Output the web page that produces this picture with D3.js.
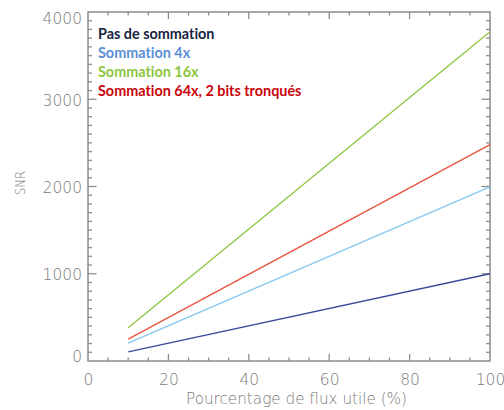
<!DOCTYPE html>
<html>
<head>
<meta charset="utf-8">
<script src="https://cdn.jsdelivr.net/npm/d3@7/dist/d3.min.js"></script>
<style>
  html, body { margin: 0; padding: 0; background: #ffffff; }
  svg { display: block; }
</style>
</head>
<body>
<svg id="chart" width="504" height="410"></svg>
<script>
// ---- data ----
const fluxPercent = [10, 100];
const snrNoSum = [105, 1000];
const snrSum4 = [205, 1995];
const snrSum16 = [380, 3775];
const snrSum64 = [250, 2480];
const seriesNames = ["Pas de sommation", "Sommation 4x", "Sommation 16x", "Sommation 64x, 2 bits tronqués"];
const xTicks = [0, 20, 40, 60, 80, 100];
const yTicks = [0, 1000, 2000, 3000, 4000];
const xTitle = "Pourcentage de flux utile (%)";
const yTitle = "SNR";

// ---- layout ----
const svg = d3.select("#chart");
const L = 88, R = 490, T = 12, B = 361;
const x = d3.scaleLinear().domain([0, 100]).range([L, R]);
const y = d3.scaleLinear().domain([0, 4000]).range([B, T]);

const axisColor = "#8c8c8c";
const textColor = "#7a7a7a";
const font = "'DejaVu Sans', sans-serif";

const lineColors = ["#3b4b9b", "#86c8f2", "#8cc63f", "#e8533d"];
const legendColors = ["#17243f", "#5b8fd6", "#8cc63f", "#c8050a"];
const allSeries = [snrNoSum, snrSum4, snrSum16, snrSum64];

// frame
svg.append("rect").attr("x", L).attr("y", T).attr("width", R - L).attr("height", B - T)
  .attr("fill", "none").attr("stroke", axisColor).attr("stroke-width", 1.5);

// ticks
const xMinor = d3.range(0, 101, 5);
const yMinor = d3.range(0, 4001, 100);
const gT = svg.append("g").attr("stroke", axisColor).attr("stroke-width", 1.3);
xMinor.forEach(v => {
  const major = v % 20 === 0;
  const len = major ? 7 : 3.5;
  if (v === 0 || v === 100) return;
  gT.append("line").attr("x1", x(v)).attr("x2", x(v)).attr("y1", B).attr("y2", B - len);
  gT.append("line").attr("x1", x(v)).attr("x2", x(v)).attr("y1", T).attr("y2", T + len);
});
yMinor.forEach(v => {
  const major = v % 1000 === 0;
  const len = major ? 8.5 : 4;
  if (v === 0 || v === 4000) return;
  gT.append("line").attr("y1", y(v)).attr("y2", y(v)).attr("x1", L).attr("x2", L + len);
  gT.append("line").attr("y1", y(v)).attr("y2", y(v)).attr("x1", R).attr("x2", R - len);
});

// tick labels
const xAxis = d3.axisBottom(x).tickValues(xTicks).tickSize(0).tickPadding(0).tickFormat(d3.format("d"));
const gx = svg.append("g").attr("transform", `translate(0,${B})`).call(xAxis);
gx.select(".domain").remove();
gx.selectAll("text").attr("y", 24).attr("dy", 0).attr("fill", textColor)
  .style("font-family", font).style("font-size", "15.5px").style("font-weight", 300);

const yAxis = d3.axisLeft(y).tickValues(yTicks).tickSize(0).tickPadding(0).tickFormat(d3.format("d"));
const gy = svg.append("g").attr("transform", `translate(${L},0)`).call(yAxis);
gy.select(".domain").remove();
gy.selectAll("text").attr("x", -6).attr("fill", textColor)
  .attr("dy", d => d === 0 ? "-0.0em" : d === 4000 ? "0.75em" : "0.38em")
  .style("font-family", font).style("font-size", "15.5px").style("font-weight", 300);

// axis titles
svg.append("text").attr("x", 296.5).attr("y", 404).attr("text-anchor", "middle")
  .attr("fill", textColor).style("font-family", font).style("font-size", "15px").style("font-weight", 300)
  .attr("textLength", 221).attr("lengthAdjust", "spacingAndGlyphs")
  .text(xTitle);
svg.append("text").attr("transform", `translate(25,183) rotate(-90)`).attr("text-anchor", "middle")
  .attr("fill", textColor).style("font-family", font).style("font-size", "13.5px").style("font-weight", 300)
  .attr("textLength", 24).attr("lengthAdjust", "spacingAndGlyphs")
  .text(yTitle);

// lines
const line = d3.line().x((d, i) => x(fluxPercent[i])).y(d => y(d));
allSeries.forEach((s, i) => {
  svg.append("path").datum(s).attr("d", line).attr("fill", "none")
    .attr("stroke", lineColors[i]).attr("stroke-width", 1.3);
});

// legend
const legendY = [38.5, 57.5, 76.5, 95.5];
seriesNames.forEach((n, i) => {
  svg.append("text").attr("x", 98).attr("y", legendY[i]).attr("fill", legendColors[i])
    .style("font-family", "Lato, 'Open Sans', sans-serif").style("font-size", "14.4px").style("font-weight", 700)
    .style("font-variant-ligatures", "none")
    .text(n);
});
</script>
</body>
</html>
